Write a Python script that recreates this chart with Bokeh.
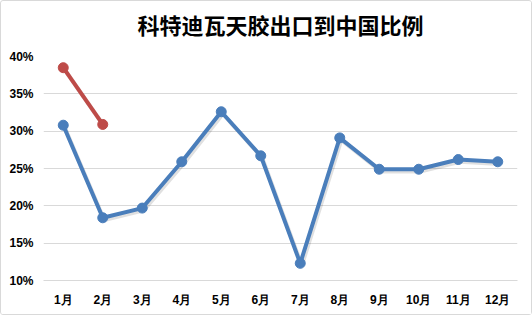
from bokeh.plotting import figure
from bokeh.models import Range1d, FixedTicker, ColumnDataSource
from bokeh.embed import file_html
from bokeh.resources import INLINE

months = ["1月", "2月", "3月", "4月", "5月", "6月", "7月", "8月", "9月", "10月", "11月", "12月"]
blue_vals = [30.8, 18.4, 19.7, 25.9, 32.6, 26.7, 12.3, 29.1, 24.9, 24.9, 26.2, 25.9]
red_vals = [38.5, 30.9]
y_ticks = [10, 15, 20, 25, 30, 35, 40]
title_text = "科特迪瓦天胶出口到中国比例"

blue_x = list(range(1, len(blue_vals) + 1))
red_x = list(range(1, len(red_vals) + 1))

p = figure(width=532, height=315, output_backend="svg", toolbar_location=None,
           x_range=Range1d(0.5, 12.5), y_range=Range1d(10, 40),
           min_border_left=42, min_border_right=16, min_border_top=0, min_border_bottom=36)
p.styles = {"border": "1px solid #d9d9d9", "box-sizing": "border-box", "border-radius": "3px"}
p.background_fill_color = "white"
p.border_fill_color = "white"
p.outline_line_color = None

p.title.text = title_text
p.title.align = "center"
p.title.offset = -23
p.title.text_font = "Noto Sans CJK SC"
p.title.text_font_style = "bold"
p.title.text_font_size = "22px"
p.title.text_color = "#000000"
p.title.standoff = 8
p.title.padding = {"left": 0, "right": 0, "top": 0, "bottom": 13}

p.xgrid.grid_line_color = None
p.ygrid.grid_line_color = "#d9d9d9"
p.ygrid.grid_line_width = 1

p.yaxis.ticker = FixedTicker(ticks=y_ticks)
p.yaxis.major_label_overrides = {t: f"{t}%" for t in y_ticks}
p.xaxis.ticker = FixedTicker(ticks=blue_x)
p.xaxis.major_label_overrides = {i + 1: m for i, m in enumerate(months)}

for ax in (p.xaxis, p.yaxis):
    ax.major_tick_line_color = None
    ax.minor_tick_line_color = None
    ax.major_label_text_font = "Liberation Sans"
    ax.major_label_text_font_style = "bold"
    ax.major_label_text_font_size = "12px"
    ax.major_label_text_color = "#000000"
p.yaxis.axis_line_color = None
p.xaxis.axis_line_color = "#d9d9d9"
p.xaxis.major_label_standoff = 6
p.yaxis.major_label_standoff = 4

# shadows
p.line([x + 0.04 for x in blue_x], [v - 0.3 for v in blue_vals], line_width=4, color="#000000", alpha=0.12)
p.line([x + 0.04 for x in red_x], [v - 0.3 for v in red_vals], line_width=4, color="#000000", alpha=0.12)

p.line(blue_x, blue_vals, line_width=4, color="#4a7ebb")
p.scatter(blue_x, blue_vals, size=10, color="#4a7ebb")
p.line(red_x, red_vals, line_width=4, color="#be4b48")
p.scatter(red_x, red_vals, size=10, color="#be4b48")

open("out.html", "w").write(file_html(p, INLINE))
